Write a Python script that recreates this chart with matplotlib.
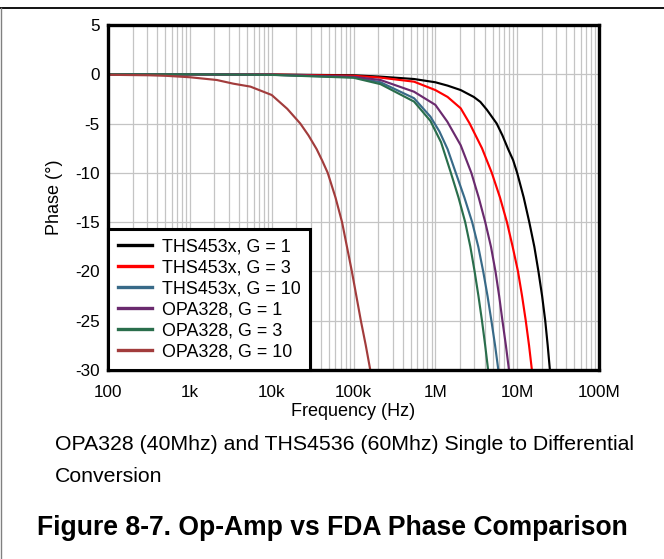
import matplotlib
matplotlib.use("Agg")
import matplotlib.pyplot as plt
from matplotlib.lines import Line2D
from matplotlib.ticker import LogLocator, FixedLocator, NullFormatter

plt.rcParams['font.family'] = ['Liberation Sans', 'DejaVu Sans']

# ---- data: log10(frequency / Hz) and phase (deg) ----
ths_g1_logf = [2, 3, 4, 5, 5.33, 5.74, 6.0, 6.15, 6.31, 6.47, 6.55, 6.63, 6.69, 6.75, 6.82, 6.89, 6.95,
               7.0, 7.08, 7.148, 7.21, 7.26, 7.305, 7.343, 7.373, 7.40]
ths_g1_p = [0, 0, -0.02, -0.1, -0.24, -0.48, -0.81, -1.15, -1.6, -2.3, -2.8, -3.6, -4.3, -5, -6.2, -7.6, -8.7,
            -10, -12.5, -15, -17.5, -20, -22.5, -25, -27.5, -30]

ths_g3_logf = [2, 3, 4, 5, 5.33, 5.74, 6.0, 6.15, 6.31, 6.42, 6.57, 6.69, 6.79, 6.875, 6.945, 7.01,
               7.06, 7.105, 7.145, 7.18]
ths_g3_p = [0, 0, -0.03, -0.15, -0.34, -0.75, -1.6, -2.3, -3.45, -5, -7.5, -10, -12.5, -15, -17.5, -20,
            -22.5, -25, -27.5, -30]

ths_g10_logf = [2, 3, 4, 5, 5.33, 5.74, 5.94, 6.05, 6.15, 6.25, 6.355, 6.45, 6.525, 6.585, 6.638, 6.685,
                6.73, 6.77]
ths_g10_p = [0, 0, -0.05, -0.3, -0.81, -2.43, -4.3, -5.8, -7.6, -10, -12.5, -15, -17.5, -20, -22.5, -25,
             -27.5, -30]

opa_g1_logf = [2, 3, 4, 5, 5.33, 5.74, 6.0, 6.146, 6.31, 6.44, 6.53, 6.61, 6.68, 6.735, 6.78, 6.82,
               6.862, 6.90]
opa_g1_p = [0, 0, -0.05, -0.25, -0.58, -1.77, -3.1, -4.8, -7.2, -10, -12.5, -15, -17.5, -20, -22.5, -25,
            -27.5, -30]

opa_g3_logf = [2, 3, 4, 5, 5.33, 5.74, 5.94, 6.07, 6.19, 6.283, 6.365, 6.428, 6.48, 6.527, 6.57, 6.609,
               6.645]
opa_g3_p = [0, 0, -0.06, -0.35, -1.0, -2.77, -4.73, -6.9, -10, -12.5, -15, -17.5, -20, -22.5, -25, -27.5,
            -30]

opa_g10_logf = [2, 2.5, 2.72, 3, 3.33, 3.53, 3.74, 4.0, 4.19, 4.35, 4.45, 4.55, 4.62, 4.685, 4.78, 4.86,
                4.92, 4.98, 5.035, 5.09, 5.15, 5.205]
opa_g10_p = [-0.05, -0.1, -0.16, -0.3, -0.58, -0.95, -1.25, -2.1, -3.5, -5, -6.2, -7.6, -8.8, -10, -12.5,
             -15, -17.5, -20, -22.5, -25, -27.5, -30]

labels = ["THS453x, G = 1", "THS453x, G = 3", "THS453x, G = 10",
          "OPA328, G = 1", "OPA328, G = 3", "OPA328, G = 10"]
colors = ["#000000", "#ff0000", "#386a88", "#6a2a6e", "#2a6e4c", "#a23c3c"]

xticks = [1e2, 1e3, 1e4, 1e5, 1e6, 1e7, 1e8]
xticklabels = ["100", "1k", "10k", "100k", "1M", "10M", "100M"]
yticks = [5, 0, -5, -10, -15, -20, -25, -30]

W, H = 664, 559
fig = plt.figure(figsize=(W / 100, H / 100), dpi=100)
ax = fig.add_axes([108 / W, 1 - 370 / H, (599 - 108) / W, (370 - 25) / H])

series = [(ths_g1_logf, ths_g1_p), (ths_g3_logf, ths_g3_p), (ths_g10_logf, ths_g10_p),
          (opa_g1_logf, opa_g1_p), (opa_g3_logf, opa_g3_p), (opa_g10_logf, opa_g10_p)]
for (lf, p), lab, c in zip(series, labels, colors):
    f = [10 ** v for v in lf]
    ax.plot(f, p, color=c, lw=1.55, label=lab, solid_joinstyle='round')

ax.set_xscale('log')
ax.set_xlim(1e2, 1e8)
ax.set_ylim(-30, 5)
ax.xaxis.set_major_locator(FixedLocator(xticks))
ax.set_xticks(xticks)
ax.set_xticklabels(xticklabels)
ax.xaxis.set_minor_locator(LogLocator(base=10, subs=range(2, 10), numticks=100))
ax.xaxis.set_minor_formatter(NullFormatter())
ax.set_yticks(yticks)
ax.set_yticklabels([str(v) for v in yticks])
ax.grid(True, which='major', color='#c4c4c4', lw=0.9)
ax.grid(True, which='minor', axis='x', color='#c4c4c4', lw=0.9)
ax.set_axisbelow(True)
ax.tick_params(which='both', length=0, labelsize=12.3)
ax.tick_params(axis='x', pad=11)
ax.tick_params(axis='y', pad=6)
for s in ax.spines.values():
    s.set_linewidth(2.4)
    s.set_color('black')

ax.set_xlabel("Frequency (Hz)", fontsize=13, labelpad=2)
ax.set_ylabel("Phase (°)", fontsize=13, labelpad=9)

leg = ax.legend(loc='lower left', bbox_to_anchor=(0, 0), borderaxespad=0,
                fancybox=False, framealpha=1, edgecolor='black', fontsize=12.9,
                handlelength=1.9, handletextpad=0.55, labelspacing=0.22,
                borderpad=0.55)
leg.get_frame().set_linewidth(2.2)
for h in leg.get_lines():
    h.set_linewidth(2.4)

fig.text(55 / W, 1 - 445 / H, "OPA328 (40Mhz) and THS4536 (60Mhz) Single to Differential",
         fontsize=15.3, va='center', ha='left')
fig.text(55 / W, 1 - 477 / H, "Conversion", fontsize=15.3, va='center', ha='left')
fig.text(37 / W, 1 - 528 / H, "Figure 8-7. Op-Amp vs FDA Phase Comparison",
         fontsize=19.1, fontweight='bold', va='center', ha='left')

fig.add_artist(Line2D([0, 1], [1 - 7.5 / H, 1 - 7.5 / H], transform=fig.transFigure,
                      color='black', lw=1.3))
fig.add_artist(Line2D([1.2 / W, 1.2 / W], [0, 1 - 7.5 / H], transform=fig.transFigure,
                      color='#808080', lw=1.0))

fig.savefig("out.png", dpi=100)
